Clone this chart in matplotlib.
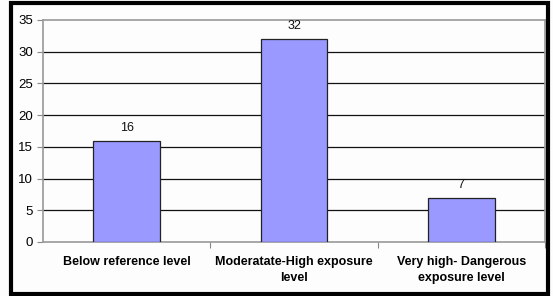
import matplotlib.pyplot as plt
from matplotlib.patches import Rectangle

categories = ["Below reference level", "Moderatate-High exposure\nlevel", "Very high- Dangerous\nexposure level"]
values = [16, 32, 7]
yticks = [0, 5, 10, 15, 20, 25, 30, 35]

plt.rcParams['font.family'] = ['Liberation Sans', 'DejaVu Sans']

fig = plt.figure(figsize=(5.53, 2.96), dpi=100)
fig.patch.set_facecolor('#fdfdfd')
ax = fig.add_axes([43/553, 54/296, 502/553, 222/296])
ax.set_facecolor('#fdfdfd')

x = range(len(values))
bars = ax.bar(x, values, width=0.4, color='#9999ff', edgecolor='#222222', linewidth=0.9, zorder=3)
for b, v in zip(bars, values):
    ax.text(b.get_x() + b.get_width()/2, v + 1.1, str(v), ha='center', va='bottom', fontsize=9, color='#111111')

ax.set_xlim(-0.5, 2.5)
ax.set_ylim(0, 35)
ax.set_yticks(yticks)
ax.set_yticklabels([str(t) for t in yticks], fontsize=9.5)
for t in yticks[1:-1]:
    ax.axhline(t, color='#111111', linewidth=0.9, zorder=1)

ax.set_xticks([0.5, 1.5, 2.5], minor=False)
ax.set_xticklabels([])
ax.set_xticks([0, 1, 2], minor=True)
ax.set_xticklabels(categories, minor=True, fontsize=9, fontweight='bold', linespacing=1.45)
ax.tick_params(axis='x', which='minor', length=0, pad=10)
ax.tick_params(axis='x', which='major', length=4, color='#888888')
ax.tick_params(axis='y', length=4, color='#888888', pad=3)

for side in ['left', 'bottom', 'top', 'right']:
    ax.spines[side].set_color('#999999')
    ax.spines[side].set_linewidth(1.2)

fig.patches.append(Rectangle((11/553, 2/296), 537/553, 291/296, transform=fig.transFigure,
                             fill=False, edgecolor='black', linewidth=3, zorder=10))

fig.savefig('out.png', dpi=100, facecolor=fig.get_facecolor())
